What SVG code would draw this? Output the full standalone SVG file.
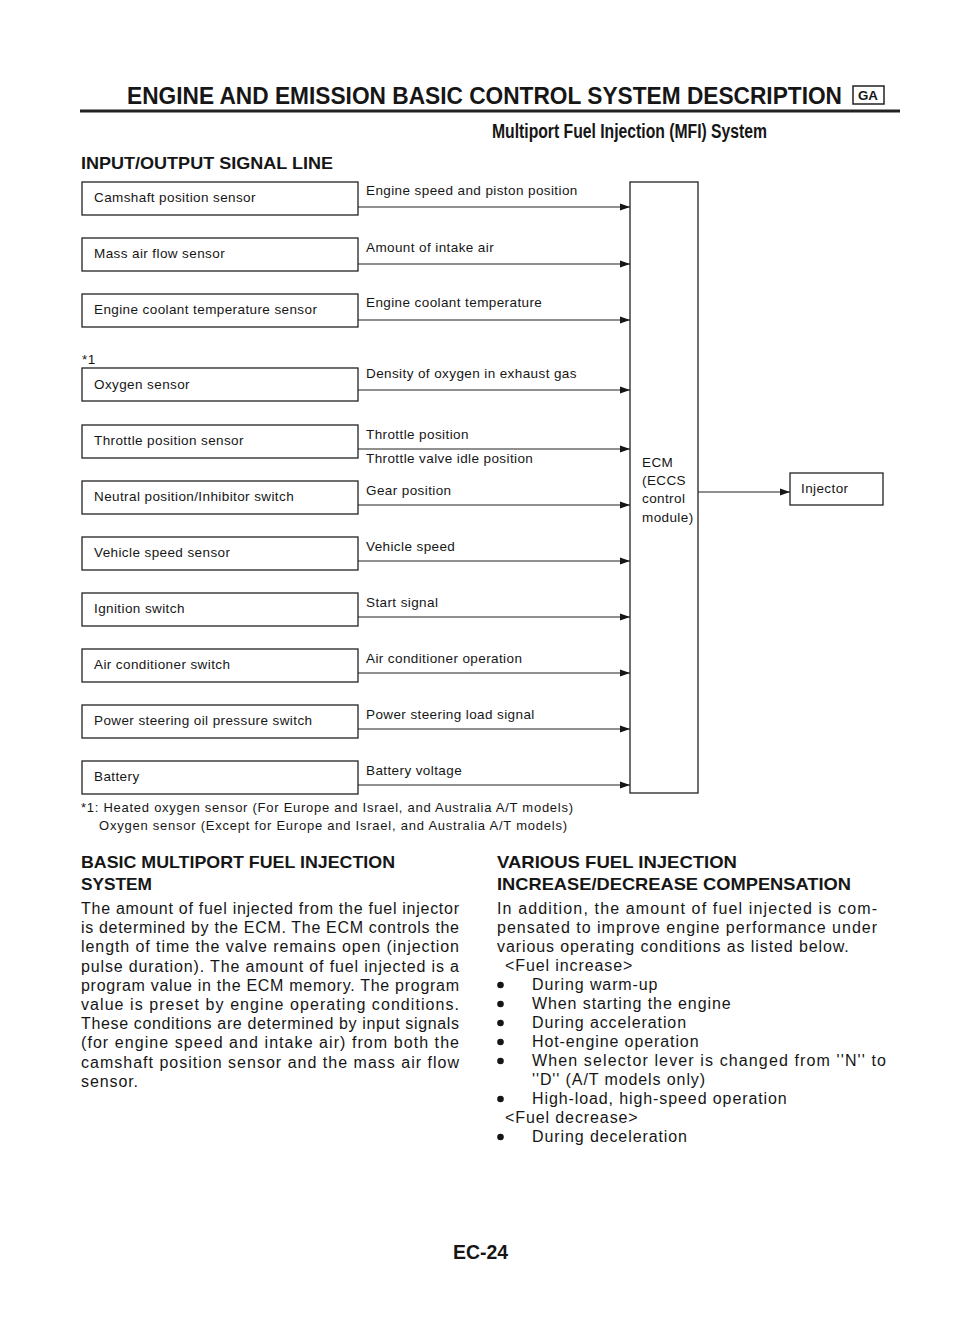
<svg xmlns="http://www.w3.org/2000/svg" width="960" height="1332" viewBox="0 0 960 1332">
<style>
text{font-family:"Liberation Sans",Arial,sans-serif;fill:#161616}
.hd{font-weight:bold}
.lbl{font-size:13.5px;letter-spacing:0.4px}
.body{font-size:16px}
.nat{letter-spacing:0.9px}
.box{fill:#fff;stroke:#222;stroke-width:1.3}
.wire{stroke:#222;stroke-width:1.2;fill:none;marker-end:url(#ah)}
</style>
<defs>
<marker id="ah" markerUnits="userSpaceOnUse" markerWidth="10" markerHeight="8" refX="10" refY="4" orient="auto">
<path d="M0,0.5 L10,4 L0,7.5 z" fill="#161616"/>
</marker>
</defs>
<rect width="960" height="1332" fill="#fff"/>

<!-- Page header -->
<text class="hd" x="127" y="104" font-size="23" textLength="715" lengthAdjust="spacingAndGlyphs">ENGINE AND EMISSION BASIC CONTROL SYSTEM DESCRIPTION</text>
<rect x="853" y="86" width="31" height="18" fill="none" stroke="#222" stroke-width="1.5"/>
<text class="hd" x="858" y="100" font-size="13" textLength="20" lengthAdjust="spacingAndGlyphs">GA</text>
<rect x="80" y="109.5" width="820" height="3" fill="#222"/>

<text class="hd" x="492" y="138" font-size="20" textLength="275" lengthAdjust="spacingAndGlyphs">Multiport Fuel Injection (MFI) System</text>
<text class="hd" x="81" y="169" font-size="17" textLength="252" lengthAdjust="spacingAndGlyphs">INPUT/OUTPUT SIGNAL LINE</text>

<!-- Input nodes -->
<g id="camshaft"><rect class="box" x="82" y="182" width="276" height="33"/><text class="lbl" x="94" y="202">Camshaft position sensor</text></g>
<g id="maf"><rect class="box" x="82" y="238" width="276" height="33"/><text class="lbl" x="94" y="258">Mass air flow sensor</text></g>
<g id="coolant"><rect class="box" x="82" y="294" width="276" height="33"/><text class="lbl" x="94" y="314">Engine coolant temperature sensor</text></g>
<text class="lbl" x="82" y="364">*1</text>
<g id="oxygen"><rect class="box" x="82" y="368" width="276" height="33"/><text class="lbl" x="94" y="389">Oxygen sensor</text></g>
<g id="throttle"><rect class="box" x="82" y="425" width="276" height="33"/><text class="lbl" x="94" y="445">Throttle position sensor</text></g>
<g id="neutral"><rect class="box" x="82" y="481" width="276" height="33"/><text class="lbl" x="94" y="501">Neutral position/Inhibitor switch</text></g>
<g id="vss"><rect class="box" x="82" y="537" width="276" height="33"/><text class="lbl" x="94" y="557">Vehicle speed sensor</text></g>
<g id="ignition"><rect class="box" x="82" y="593" width="276" height="33"/><text class="lbl" x="94" y="613">Ignition switch</text></g>
<g id="aircon"><rect class="box" x="82" y="649" width="276" height="33"/><text class="lbl" x="94" y="669">Air conditioner switch</text></g>
<g id="pssw"><rect class="box" x="82" y="705" width="276" height="33"/><text class="lbl" x="94" y="725">Power steering oil pressure switch</text></g>
<g id="battery"><rect class="box" x="82" y="761" width="276" height="33"/><text class="lbl" x="94" y="781">Battery</text></g>

<!-- ECM -->
<g id="ecm"><rect class="box" x="630" y="182" width="68" height="611"/>
<text class="lbl" x="642" y="467">ECM</text>
<text class="lbl" x="642" y="485">(ECCS</text>
<text class="lbl" x="642" y="503">control</text>
<text class="lbl" x="642" y="522">module)</text></g>

<!-- Injector -->
<g id="injector"><rect class="box" x="790" y="473" width="93" height="32"/><text class="lbl" x="801" y="493">Injector</text></g>

<!-- Connectors -->
<g id="connectors">
<line class="wire" x1="358" y1="207" x2="630" y2="207"/>
<line class="wire" x1="358" y1="264" x2="630" y2="264"/>
<line class="wire" x1="358" y1="320" x2="630" y2="320"/>
<line class="wire" x1="358" y1="390" x2="630" y2="390"/>
<line class="wire" x1="358" y1="449" x2="630" y2="449"/>
<line class="wire" x1="358" y1="505" x2="630" y2="505"/>
<line class="wire" x1="358" y1="561" x2="630" y2="561"/>
<line class="wire" x1="358" y1="617" x2="630" y2="617"/>
<line class="wire" x1="358" y1="673" x2="630" y2="673"/>
<line class="wire" x1="358" y1="729" x2="630" y2="729"/>
<line class="wire" x1="358" y1="785" x2="630" y2="785"/>
<line class="wire" x1="698" y1="492" x2="790" y2="492"/>
<text class="lbl" x="366" y="195">Engine speed and piston position</text>
<text class="lbl" x="366" y="252">Amount of intake air</text>
<text class="lbl" x="366" y="307">Engine coolant temperature</text>
<text class="lbl" x="366" y="378">Density of oxygen in exhaust gas</text>
<text class="lbl" x="366" y="439">Throttle position</text>
<text class="lbl" x="366" y="463">Throttle valve idle position</text>
<text class="lbl" x="366" y="495">Gear position</text>
<text class="lbl" x="366" y="551">Vehicle speed</text>
<text class="lbl" x="366" y="607">Start signal</text>
<text class="lbl" x="366" y="663">Air conditioner operation</text>
<text class="lbl" x="366" y="719">Power steering load signal</text>
<text class="lbl" x="366" y="775">Battery voltage</text>
</g>

<!-- Footnote -->
<text x="81" y="812" font-size="13" textLength="492">*1: Heated oxygen sensor (For Europe and Israel, and Australia A/T models)</text>
<text x="99" y="830" font-size="13" textLength="468">Oxygen sensor (Except for Europe and Israel, and Australia A/T models)</text>

<!-- Left column -->
<text class="hd" x="81" y="868" font-size="17" textLength="314" lengthAdjust="spacingAndGlyphs">BASIC MULTIPORT FUEL INJECTION</text>
<text class="hd" x="81" y="890" font-size="17" textLength="71" lengthAdjust="spacingAndGlyphs">SYSTEM</text>
<g class="body">
<text x="81" y="914" textLength="378">The amount of fuel injected from the fuel injector</text>
<text x="81" y="933.2" textLength="378">is determined by the ECM. The ECM controls the</text>
<text x="81" y="952.4" textLength="378">length of time the valve remains open (injection</text>
<text x="81" y="971.6" textLength="378">pulse duration). The amount of fuel injected is a</text>
<text x="81" y="990.8" textLength="378">program value in the ECM memory. The program</text>
<text x="81" y="1010" textLength="378">value is preset by engine operating conditions.</text>
<text x="81" y="1029.2" textLength="378">These conditions are determined by input signals</text>
<text x="81" y="1048.4" textLength="378">(for engine speed and intake air) from both the</text>
<text x="81" y="1067.6" textLength="378">camshaft position sensor and the mass air flow</text>
<text class="nat" x="81" y="1086.8">sensor.</text>
</g>

<!-- Right column -->
<text class="hd" x="497" y="868" font-size="17" textLength="240" lengthAdjust="spacingAndGlyphs">VARIOUS FUEL INJECTION</text>
<text class="hd" x="497" y="890" font-size="17" textLength="354" lengthAdjust="spacingAndGlyphs">INCREASE/DECREASE COMPENSATION</text>
<g class="body">
<text x="497" y="914" textLength="380">In addition, the amount of fuel injected is com-</text>
<text x="497" y="933" textLength="380">pensated to improve engine performance under</text>
<text class="nat" x="497" y="952">various operating conditions as listed below.</text>
<text class="nat" x="505" y="971">&lt;Fuel increase&gt;</text>
<text class="nat" x="532" y="990">During warm-up</text>
<text class="nat" x="532" y="1009">When starting the engine</text>
<text class="nat" x="532" y="1028">During acceleration</text>
<text class="nat" x="532" y="1047">Hot-engine operation</text>
<text x="532" y="1066" textLength="354">When selector lever is changed from ''N'' to</text>
<text class="nat" x="532" y="1085">''D'' (A/T models only)</text>
<text class="nat" x="532" y="1104">High-load, high-speed operation</text>
<text class="nat" x="505" y="1123">&lt;Fuel decrease&gt;</text>
<text class="nat" x="532" y="1142">During deceleration</text>
</g>
<g fill="#161616">
<circle cx="500.5" cy="985" r="3.3"/>
<circle cx="500.5" cy="1004" r="3.3"/>
<circle cx="500.5" cy="1023" r="3.3"/>
<circle cx="500.5" cy="1042" r="3.3"/>
<circle cx="500.5" cy="1061" r="3.3"/>
<circle cx="500.5" cy="1099" r="3.3"/>
<circle cx="500.5" cy="1137" r="3.3"/>
</g>

<text class="hd" x="453" y="1259" font-size="19.5" textLength="55" lengthAdjust="spacingAndGlyphs">EC-24</text>
</svg>
